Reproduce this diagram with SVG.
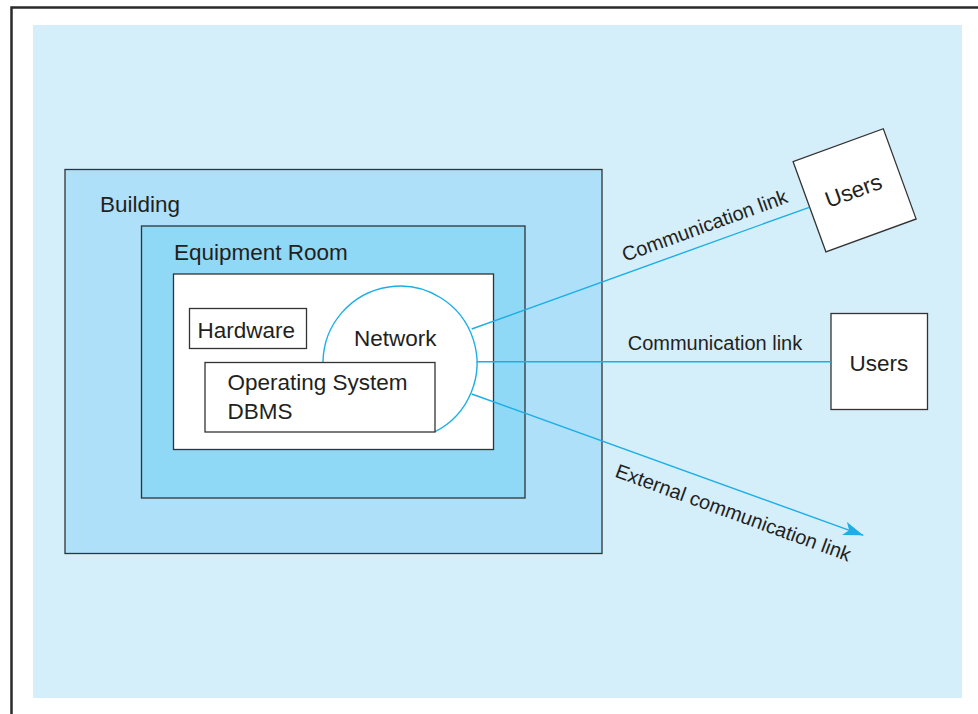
<svg xmlns="http://www.w3.org/2000/svg" width="978" height="714" viewBox="0 0 978 714">
<style>
  text { font-family: "Liberation Sans", Arial, Helvetica, sans-serif; fill: #231f20; }
  .lbl { font-size: 22.5px; }
  .lnk { font-size: 20px; }
  .box { stroke: #333; stroke-width: 1.3; }
  .conn { stroke: #1caee6; stroke-width: 1.4; fill: none; }
</style>
<defs>
  <marker id="arr" markerUnits="userSpaceOnUse" markerWidth="22" markerHeight="16" refX="20" refY="7" orient="auto">
    <path d="M0,0 L20,7 L0,14 L5,7 z" fill="#1caee6"/>
  </marker>
</defs>
<rect x="0" y="0" width="978" height="714" fill="#ffffff"/>
<path d="M11.5,714 V7.5 H978" fill="none" stroke="#2a2a2a" stroke-width="2.5"/>
<rect x="33" y="25" width="929" height="673" fill="#d4eefa"/>

<g id="building">
  <rect class="box" x="65" y="169.5" width="537" height="384" fill="#aee0f9"/>
  <text class="lbl" x="100" y="212">Building</text>
</g>
<g id="equipment-room">
  <rect class="box" x="141.5" y="226" width="383.5" height="272" fill="#8fd8f6"/>
  <text class="lbl" x="174" y="260">Equipment Room</text>
</g>
<g id="room-interior">
  <rect class="box" x="173.5" y="274" width="320" height="175.5" fill="#ffffff"/>
</g>
<g id="hardware">
  <rect class="box" x="189.5" y="308.5" width="117" height="40" fill="#ffffff"/>
  <text class="lbl" x="197.5" y="337.5">Hardware</text>
</g>
<g id="network">
  <path class="conn" d="M323,362 A77,77 0 1 1 435,431.7" fill="#ffffff"/>
  <text class="lbl" x="354" y="345.5">Network</text>
</g>
<g id="os-dbms">
  <rect class="box" x="205" y="362.5" width="230" height="69.5" fill="#ffffff"/>
  <text class="lbl" x="227.5" y="389.5">Operating System</text>
  <text class="lbl" x="227.5" y="418.5">DBMS</text>
</g>
<g id="users-1">
  <rect class="box" x="806.6" y="142.3" width="96" height="96" fill="#ffffff" transform="rotate(-20 854.6 190.3)"/>
  <text class="lbl" x="856" y="198" text-anchor="middle" transform="rotate(-20 856 198)">Users</text>
</g>
<g id="users-2">
  <rect class="box" x="831" y="313.5" width="96.5" height="96" fill="#ffffff"/>
  <text class="lbl" x="879" y="370.5" text-anchor="middle">Users</text>
</g>

<g id="connectors">
  <line class="conn" x1="471.7" y1="329" x2="809.3" y2="207.3"/>
  <line class="conn" x1="476.7" y1="361.7" x2="831" y2="361.7"/>
  <line class="conn" x1="471.7" y1="394" x2="863.3" y2="535.3" marker-end="url(#arr)"/>
  <text class="lnk" x="707" y="232" text-anchor="middle" transform="rotate(-20 707 232)">Communication link</text>
  <text class="lnk" x="715" y="350" text-anchor="middle">Communication link</text>
  <text class="lnk" x="731" y="519" text-anchor="middle" transform="rotate(20 731 519)">External communication link</text>
</g>
</svg>
